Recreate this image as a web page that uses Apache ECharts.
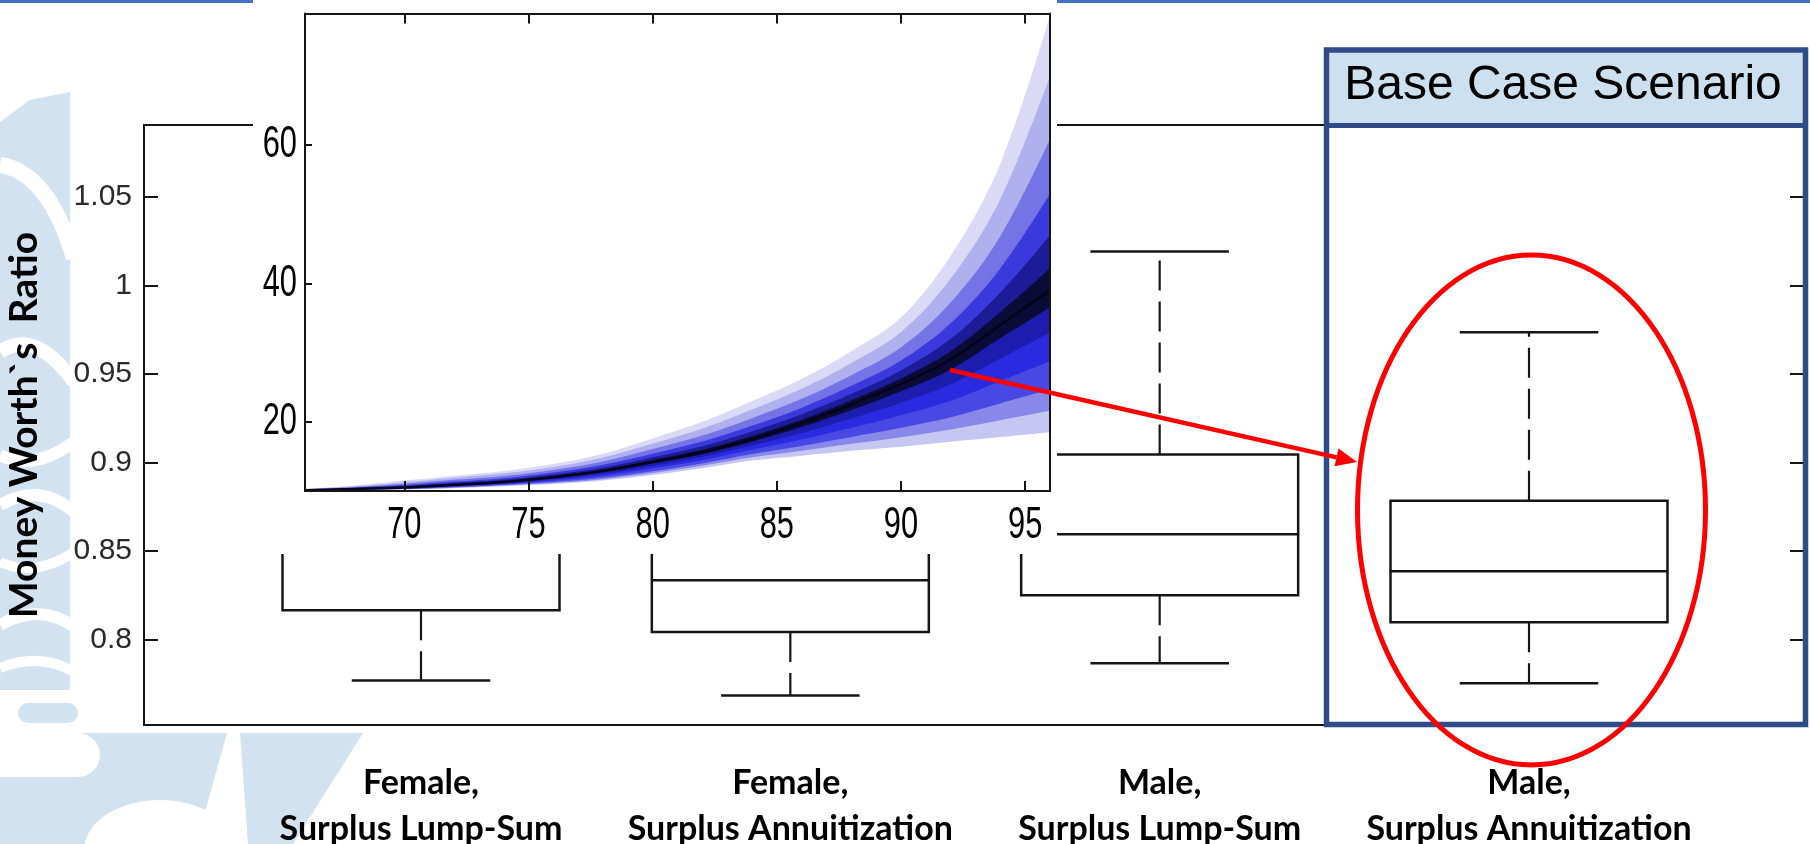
<!DOCTYPE html>
<html><head><meta charset="utf-8">
<script src="https://cdn.jsdelivr.net/npm/echarts@6/dist/echarts.min.js"></script>
<style>html,body{margin:0;padding:0;background:#fff}#c{width:1810px;height:844px}</style>
</head><body><div id="c"></div>
<script>
// ---------- main box plot data ----------
const categories = ['Female,\nSurplus Lump-Sum', 'Female,\nSurplus Annuitization', 'Male,\nSurplus Lump-Sum', 'Male,\nSurplus Annuitization'];
const categoryPos = [1, 2, 3, 4];
const whiskerLow = [0.7769, 0.7684, 0.7866, 0.7753];
const quartile1 = [0.8165, 0.8043, 0.8250, 0.8098];
const medians = [0.858, 0.8335, 0.8595, 0.8385];
const quartile3 = [0.900, 0.868, 0.9045, 0.8784];
const whiskerHigh = [1.000, 0.960, 1.0191, 0.9736];
const ratioTicks = [0.8, 0.85, 0.9, 0.95, 1, 1.05];

// ---------- inset fan chart data ----------
const ages = [66, 68, 70, 72, 74, 76, 78, 80, 82, 84, 86, 88, 90, 92, 94, 96];
const fanLow = [10.0, 10.1, 10.2, 10.4, 10.7, 11.0, 11.5, 12.3, 13.3, 14.4, 15.1, 15.8, 16.4, 17.1, 17.8, 18.5];
const fanLo5 = [10.02, 10.13, 10.25, 10.48, 10.79, 11.15, 11.71, 12.59, 13.65, 14.87, 15.81, 16.81, 17.77, 18.89, 20.23, 21.58];
const fanLo4 = [10.03, 10.16, 10.29, 10.55, 10.88, 11.3, 11.92, 12.87, 13.99, 15.33, 16.51, 17.81, 19.13, 20.67, 22.66, 24.65];
const fanLo3 = [10.05, 10.2, 10.35, 10.65, 11.0, 11.5, 12.2, 13.25, 14.45, 15.95, 17.45, 19.15, 20.95, 23.05, 25.9, 28.75];
const fanLo2 = [10.07, 10.24, 10.41, 10.75, 11.12, 11.7, 12.48, 13.63, 14.91, 16.57, 18.39, 20.49, 22.77, 25.43, 29.14, 32.85];
const fanLo1 = [10.09, 10.28, 10.46, 10.84, 11.23, 11.88, 12.73, 13.97, 15.32, 17.13, 19.24, 21.7, 24.41, 27.57, 32.06, 36.54];
const fanMed = [10.1, 10.3, 10.5, 10.9, 11.3, 12.0, 12.9, 14.2, 15.6, 17.5, 19.8, 22.5, 25.5, 29.0, 34.0, 39.0];
const fanHi1 = [10.12, 10.34, 10.58, 11.0, 11.43, 12.15, 13.1, 14.47, 15.95, 17.94, 20.31, 23.12, 26.27, 30.2, 35.86, 42.18];
const fanHi2 = [10.14, 10.4, 10.7, 11.16, 11.62, 12.38, 13.4, 14.88, 16.48, 18.6, 21.08, 24.04, 27.42, 32.0, 38.66, 46.94];
const fanHi3 = [10.17, 10.48, 10.85, 11.36, 11.86, 12.67, 13.78, 15.39, 17.14, 19.43, 22.04, 25.2, 28.86, 34.25, 42.16, 52.9];
const fanHi4 = [10.21, 10.58, 11.05, 11.62, 12.18, 13.05, 14.28, 16.07, 18.02, 20.53, 23.32, 26.74, 30.78, 37.25, 46.82, 60.84];
const fanHi5 = [10.26, 10.69, 11.28, 11.91, 12.55, 13.48, 14.85, 16.85, 19.03, 21.79, 24.79, 28.51, 32.99, 40.7, 52.17, 69.97];
const fanHigh = [10.3, 10.8, 11.5, 12.2, 12.9, 13.9, 15.4, 17.6, 20.0, 23.0, 26.2, 30.2, 35.1, 44.0, 57.3, 78.7];
const ageTicks = [70, 75, 80, 85, 90, 95];
const insetValueTicks = [20, 40, 60];

// drawing order (outermost upper first); colour = band just below each curve
const fanLayers = [
  [fanHigh, '#dadaf6'], [fanHi5, '#b0b0ee'], [fanHi4, '#7474e6'], [fanHi3, '#3a3adc'],
  [fanHi2, '#1c1c98'], [fanHi1, '#0b0b38'], [fanMed, '#0b0b38'], [fanLo1, '#1c1cae'],
  [fanLo2, '#2a2ae0'], [fanLo3, '#4848e4'], [fanLo4, '#8888ea'], [fanLo5, '#c6c6f3'],
  [fanLow, '#ffffff']
];

const chart = echarts.init(document.getElementById('c'), null, {renderer: 'canvas'});
const BLACK = '#151515';
const WM = '#d2e2f1';
const NARROW = "'Liberation Sans', Arial, sans-serif";

const fanSeries = fanLayers.map(([arr, col]) => ({
  type: 'line', xAxisIndex: 1, yAxisIndex: 2, z: 6, silent: true,
  smooth: 0.35, symbol: 'none', animation: false,
  data: ages.map((a, i) => [a, arr[i]]),
  lineStyle: arr === fanMed ? {width: 2.5, color: '#04041a'} : {width: 0},
  areaStyle: {color: col, opacity: 1, origin: 'start'}
}));

const boxSeries = {
  type: 'custom', xAxisIndex: 0, yAxisIndex: 0, z: 3, silent: true, animation: false,
  data: categoryPos.map((p, i) => [p, whiskerLow[i], quartile1[i], medians[i], quartile3[i], whiskerHigh[i]]),
  encode: {x: 0, y: [1, 2, 3, 4, 5]},
  renderItem(params, api) {
    const x = api.value(0);
    const lo = api.coord([x, api.value(1)]);
    const q1 = api.coord([x, api.value(2)]);
    const md = api.coord([x, api.value(3)]);
    const q3 = api.coord([x, api.value(4)]);
    const hi = api.coord([x, api.value(5)]);
    const half = api.size([0.75, 0])[0] / 2;
    const cap = api.size([0.375, 0])[0] / 2;
    const cx = lo[0];
    const solid = {stroke: BLACK, lineWidth: 2.5, fill: null};
    const dash = {stroke: BLACK, lineWidth: 2.2, lineDash: [30, 11], fill: null};
    return {type: 'group', children: [
      {type: 'line', shape: {x1: cx, y1: q3[1], x2: cx, y2: hi[1]}, style: dash},
      {type: 'line', shape: {x1: cx, y1: q1[1], x2: cx, y2: lo[1]}, style: dash},
      {type: 'line', shape: {x1: cx - cap, y1: hi[1], x2: cx + cap, y2: hi[1]}, style: solid},
      {type: 'line', shape: {x1: cx - cap, y1: lo[1], x2: cx + cap, y2: lo[1]}, style: solid},
      {type: 'rect', shape: {x: cx - half, y: q3[1], width: 2 * half, height: q1[1] - q3[1]}, style: {stroke: BLACK, lineWidth: 2.5, fill: 'rgba(0,0,0,0)'}},
      {type: 'line', shape: {x1: cx - half, y1: md[1], x2: cx + half, y2: md[1]}, style: solid}
    ]};
  }
};

const axisLineStyle = {color: BLACK, width: 2};

const option = {
  animation: false,
  backgroundColor: '#ffffff',
  grid: [
    {left: 144, top: 125, right: 4, bottom: 119, show: true, z: 2, backgroundColor: '#ffffff', borderColor: BLACK, borderWidth: 2, outerBoundsMode: 'none', containLabel: false},
    {left: 305, top: 13.5, right: 760, bottom: 353, show: false, z: 6, outerBoundsMode: 'none', containLabel: false}
  ],
  xAxis: [
    {gridIndex: 0, type: 'value', min: 0.25, max: 4.75, z: 3,
     axisLine: {show: false}, axisTick: {show: false}, splitLine: {show: false},
     axisLabel: {customValues: categoryPos, formatter: v => categories[Math.round(v) - 1],
       fontFamily: 'Lato', fontWeight: 'bold', fontSize: 34, lineHeight: 46, color: '#000', margin: 35}},
    {gridIndex: 1, type: 'value', min: 66, max: 96, z: 7, position: 'bottom',
     axisLine: {show: true, onZero: false, lineStyle: axisLineStyle},
     axisTick: {show: true, inside: true, length: 10, customValues: ageTicks, lineStyle: axisLineStyle},
     splitLine: {show: false}, axisLabel: {show: false}},
    {gridIndex: 1, type: 'value', min: 66, max: 96, z: 7, position: 'top',
     axisLine: {show: true, onZero: false, lineStyle: axisLineStyle},
     axisTick: {show: true, inside: true, length: 10, customValues: ageTicks, lineStyle: axisLineStyle},
     splitLine: {show: false}, axisLabel: {show: false}}
  ],
  yAxis: [
    {gridIndex: 0, type: 'value', min: 0.7517, max: 1.0906, z: 3, position: 'left',
     name: 'Money Worth`s  Ratio', nameLocation: 'middle', nameRotate: 90, nameGap: 100,
     nameTextStyle: {fontFamily: 'Lato', fontWeight: 'bold', fontSize: 39, color: '#000'},
     axisLine: {show: false}, splitLine: {show: false},
     axisTick: {show: true, inside: true, length: 14, customValues: ratioTicks, lineStyle: axisLineStyle},
     axisLabel: {customValues: ratioTicks, fontFamily: "'Liberation Sans', Arial", fontSize: 30, color: '#2a2a2a', margin: 12}},
    {gridIndex: 0, type: 'value', min: 0.7517, max: 1.0906, z: 3, position: 'right',
     axisLine: {show: false}, splitLine: {show: false}, axisLabel: {show: false},
     axisTick: {show: true, inside: true, length: 16, customValues: ratioTicks, lineStyle: axisLineStyle}},
    {gridIndex: 1, type: 'value', min: 10, max: 79, z: 7, position: 'left',
     axisLine: {show: true, onZero: false, lineStyle: axisLineStyle}, splitLine: {show: false},
     axisTick: {show: true, inside: true, length: 7, customValues: insetValueTicks, lineStyle: axisLineStyle},
     axisLabel: {show: false}},
    {gridIndex: 1, type: 'value', min: 10, max: 79, z: 7, position: 'right',
     axisLine: {show: true, onZero: false, lineStyle: axisLineStyle}, splitLine: {show: false},
     axisTick: {show: false}, axisLabel: {show: false}}
  ],
  series: [boxSeries].concat(fanSeries)
};
chart.setOption(option);

// ---------- decorations & condensed inset tick labels ----------
function wmCurve(x1, y1, cx, cy, x2, y2, w) {
  return {type: 'bezierCurve', z: 0, silent: true, shape: {x1: x1, y1: y1, cpx1: cx, cpy1: cy, x2: x2, y2: y2}, style: {stroke: '#fff', lineWidth: w, fill: null}};
}
const aS = [950, 370], aT = [1357, 462];
const ul = Math.hypot(aT[0] - aS[0], aT[1] - aS[1]);
const nx = (aT[0] - aS[0]) / ul, ny = (aT[1] - aS[1]) / ul;
const hb = [aT[0] - 21 * nx, aT[1] - 21 * ny];

const insetBottomY = chart.convertToPixel({yAxisIndex: 2}, 10);
const insetLeftX = chart.convertToPixel({xAxisIndex: 1}, 66);
const insetLabels = [];
ageTicks.forEach(v => {
  insetLabels.push({type: 'text', z: 8, silent: true, x: chart.convertToPixel({xAxisIndex: 1}, v), y: insetBottomY + 35,
    scaleX: 0.7, style: {text: String(v), fontFamily: NARROW, fontSize: 44, fill: '#000', align: 'center', verticalAlign: 'middle'}});
});
insetValueTicks.forEach(v => {
  insetLabels.push({type: 'text', z: 8, silent: true, x: insetLeftX - 8, y: chart.convertToPixel({yAxisIndex: 2}, v),
    scaleX: 0.7, style: {text: String(v), fontFamily: NARROW, fontSize: 44, fill: '#000', align: 'right', verticalAlign: 'middle'}});
});

const graphics = [
  // watermark
  {type: 'polygon', z: 0, silent: true, shape: {points: [[0, 122], [30, 100], [70, 92], [70, 690], [0, 690]]}, style: {fill: WM}},
  {type: 'rect', z: 0, silent: true, shape: {x: 18, y: 703, width: 60, height: 20, r: 10}, style: {fill: WM}},
  wmCurve(0, 165, 48, 172, 74, 258, 16),
  wmCurve(0, 352, 35, 328, 74, 382, 14),
  wmCurve(0, 455, 32, 472, 74, 442, 12),
  wmCurve(0, 505, 40, 482, 74, 512, 12),
  wmCurve(0, 562, 35, 578, 74, 552, 10),
  wmCurve(0, 625, 40, 602, 74, 627, 12),
  wmCurve(0, 668, 40, 652, 74, 672, 10),
  {type: 'polygon', z: 0, silent: true, shape: {points: [[0, 733], [227, 733], [196, 844], [0, 844]]}, style: {fill: WM}},
  {type: 'rect', z: 0, silent: true, shape: {x: -30, y: 733, width: 130, height: 44, r: [0, 22, 22, 0]}, style: {fill: '#fff'}},
  {type: 'ellipse', z: 0, silent: true, shape: {cx: 160, cy: 850, rx: 76, ry: 50}, style: {fill: '#fff'}},
  {type: 'polygon', z: 0, silent: true, shape: {points: [[240, 733], [363, 733], [293, 844], [248, 844]]}, style: {fill: WM}},
  // top blue rule
  {type: 'rect', z: 5, silent: true, shape: {x: 0, y: 0, width: 253, height: 3}, style: {fill: '#4472c4'}},
  {type: 'rect', z: 5, silent: true, shape: {x: 1057, y: 0, width: 753, height: 3}, style: {fill: '#4472c4'}},
  // inset white background
  {type: 'rect', z: 5, silent: true, shape: {x: 253, y: 0, width: 804, height: 554}, style: {fill: '#fff'}},
  // base case box
  {type: 'rect', z: 8, silent: true, shape: {x: 1327, y: 51, width: 478, height: 73}, style: {fill: '#cde0f0'}},
  {type: 'rect', z: 8, silent: true, shape: {x: 1326.5, y: 50, width: 479, height: 674.5}, style: {stroke: '#2f4b88', lineWidth: 5.5, fill: null}},
  {type: 'line', z: 8, silent: true, shape: {x1: 1326, y1: 125.5, x2: 1806, y2: 125.5}, style: {stroke: '#2f4b88', lineWidth: 5}},
  {type: 'text', z: 9, silent: true, x: 1563, y: 86, style: {text: 'Base Case Scenario', fontFamily: "'Liberation Sans', Arial", fontSize: 48, fill: '#000', align: 'center', verticalAlign: 'middle'}},
  // red ellipse
  {type: 'ellipse', z: 9, silent: true, shape: {cx: 1531.5, cy: 510, rx: 174, ry: 255}, style: {stroke: '#ff0000', lineWidth: 5, fill: null}},
  // red arrow
  {type: 'line', z: 9, silent: true, shape: {x1: aS[0], y1: aS[1], x2: hb[0], y2: hb[1]}, style: {stroke: '#ff0000', lineWidth: 4.5}},
  {type: 'polygon', z: 9, silent: true, shape: {points: [aT, [hb[0] - 9 * ny, hb[1] + 9 * nx], [hb[0] + 9 * ny, hb[1] - 9 * nx]]}, style: {fill: '#ff0000'}}
].concat(insetLabels);

chart.setOption({graphic: graphics});
</script></body></html>
